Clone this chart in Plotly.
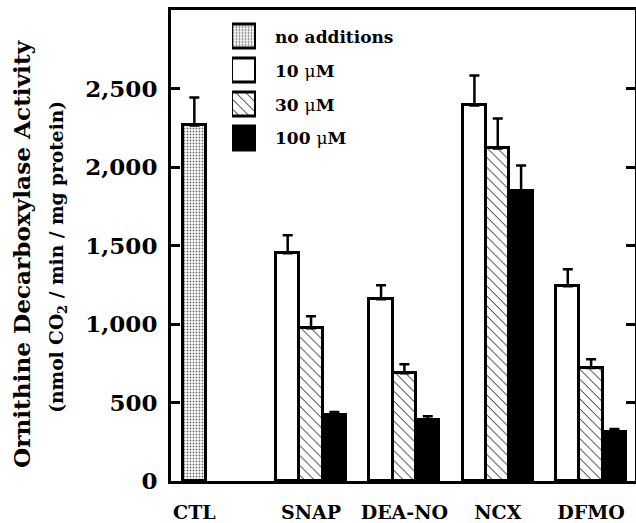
import plotly.graph_objects as go

# ---------------- data ----------------
categories = ["CTL", "SNAP", "DEA-NO", "NCX", "DFMO"]
treatments = ["SNAP", "DEA-NO", "NCX", "DFMO"]

ctl_value = [2265]
ctl_err = [178]

v10 = [1450, 1158, 2392, 1240]
e10 = [115, 89, 191, 109]
v30 = [973, 687, 2118, 719]
e30 = [77, 57, 191, 57]
v100 = [420, 388, 1845, 312]
e100 = [19, 25, 165, 19]

legend_labels = ["no additions", "10 μM", "30 μM", "100 μM"]
y_ticks = [0, 500, 1000, 1500, 2000, 2500]

# ---------------- layout helpers ----------------
cat_pos = [0, 5, 9, 13, 17]          # slot positions of the category labels
FONT = "DejaVu Serif"
LINE = dict(color="black", width=3)
ERR = dict(color="black", thickness=2.5, width=5)

dot_pattern = dict(shape=".", fgcolor="#6e6e6e", bgcolor="white", size=3, solidity=0.3)
hatch_pattern = dict(shape="\\", fgcolor="black", bgcolor="white", size=7, solidity=0.13)
styles = [
    dict(color="white", pattern=dot_pattern, line=LINE),
    dict(color="white", line=LINE),
    dict(color="white", pattern=hatch_pattern, line=LINE),
    dict(color="black", line=LINE),
]

fig = go.Figure()

def err(arr):
    return dict(type="data", array=arr, arrayminus=[0] * len(arr), symmetric=False, **ERR)

tpos = cat_pos[1:]
fig.add_trace(go.Bar(x=[cat_pos[0]], y=ctl_value, width=1, error_y=err(ctl_err),
                     marker=styles[0], showlegend=False))
fig.add_trace(go.Bar(x=[p - 1 for p in tpos], y=v10, width=1, error_y=err(e10),
                     marker=styles[1], showlegend=False))
fig.add_trace(go.Bar(x=tpos, y=v30, width=1, error_y=err(e30),
                     marker=styles[2], showlegend=False))
fig.add_trace(go.Bar(x=[p + 1 for p in tpos], y=v100, width=1, error_y=err(e100),
                     marker=styles[3], showlegend=False))

# ---------------- legend drawn as small bars on an overlay axis ----------------
def label_html(s):
    if "μ" in s:
        a, b = s.split("μ")
        return "<b>" + a + "</b>μ<b>" + b + "</b>"
    return "<b>" + s + "</b>"

for i, lab in enumerate(legend_labels):
    fig.add_trace(go.Bar(y=[i], x=[1], orientation="h", width=0.706,
                         xaxis="x2", yaxis="y2", showlegend=False, hoverinfo="skip",
                         marker=styles[i]))
    fig.add_annotation(x=0.2198, xref="paper", y=i, yref="y2", text=label_html(lab),
                       showarrow=False, xanchor="left", yanchor="middle",
                       font=dict(family=FONT, size=17, color="black"))

# ---------------- y-axis title (two lines) ----------------
fig.add_annotation(x=-0.321, y=0.482, xref="paper", yref="paper", textangle=-90,
                   xanchor="center", yanchor="middle",
                   text="<b>Ornithine Decarboxylase Activity</b>", showarrow=False,
                   font=dict(family=FONT, size=23.2, color="black"))
fig.add_annotation(x=-0.2435, y=0.476, xref="paper", yref="paper", textangle=-90,
                   xanchor="center", yanchor="middle",
                   text="<b>(nmol CO<sub>2</sub> / min / mg protein)</b>", showarrow=False,
                   font=dict(family=FONT, size=18.6, color="black"))

fig.update_layout(
    template="none",
    width=636, height=523,
    margin=dict(l=171, r=1, t=10, b=42, autoexpand=False),
    paper_bgcolor="white", plot_bgcolor="white",
    barmode="overlay", bargap=0,
    showlegend=False,
    xaxis=dict(range=[-1, 18.88], showline=True, linecolor="black", linewidth=3, mirror=True,
               ticks="", tickvals=cat_pos, ticktext=["<b>" + c + "</b>" for c in categories],
               showgrid=False, zeroline=False, ticklabelstandoff=12, automargin=False,
               tickfont=dict(family=FONT, size=19, color="black")),
    yaxis=dict(range=[0, 3000], showline=True, linecolor="black", linewidth=3, mirror="ticks",
               ticks="inside", ticklen=9, tickwidth=3, tickcolor="black",
               tickvals=y_ticks, ticktext=["<b>" + f"{v:,}" + "</b>" for v in y_ticks],
               showgrid=False, zeroline=False, ticklabelstandoff=6, automargin=False,
               tickfont=dict(family=FONT, size=23, color="black")),
    xaxis2=dict(domain=[0.1315, 0.1832], anchor="y2", range=[0, 1], visible=False, fixedrange=True),
    yaxis2=dict(domain=[0.6911, 0.9798], anchor="x2", range=[3.5, -0.5], visible=False, fixedrange=True),
)

fig.write_html("out.html", config={"displayModeBar": False},
               post_script="document.body.style.margin='0';document.body.style.overflow='hidden';")
